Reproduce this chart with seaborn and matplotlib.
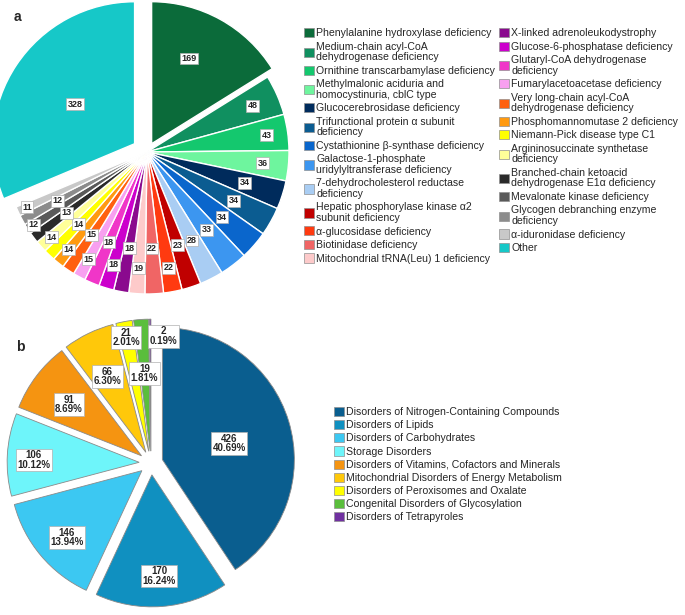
import numpy as np
import matplotlib
matplotlib.use("Agg")
import matplotlib.pyplot as plt
from matplotlib.patches import Patch
import seaborn as sns

# Panel a: individual disorders
disorders = [
    "Phenylalanine hydroxylase deficiency",
    "Medium-chain acyl-CoA\ndehydrogenase deficiency",
    "Ornithine transcarbamylase deficiency",
    "Methylmalonic aciduria and\nhomocystinuria, cblC type",
    "Glucocerebrosidase deficiency",
    "Trifunctional protein α subunit\ndeficiency",
    "Cystathionine β-synthase deficiency",
    "Galactose-1-phosphate\nuridylyltransferase deficiency",
    "7-dehydrocholesterol reductase\ndeficiency",
    "Hepatic phosphorylase kinase α2\nsubunit deficiency",
    "α-glucosidase deficiency",
    "Biotinidase deficiency",
    "Mitochondrial tRNA(Leu) 1 deficiency",
    "X-linked adrenoleukodystrophy",
    "Glucose-6-phosphatase deficiency",
    "Glutaryl-CoA dehydrogenase\ndeficiency",
    "Fumarylacetoacetase deficiency",
    "Very long-chain acyl-CoA\ndehydrogenase deficiency",
    "Phosphomannomutase 2 deficiency",
    "Niemann-Pick disease type C1",
    "Argininosuccinate synthetase\ndeficiency",
    "Branched-chain ketoacid\ndehydrogenase E1α deficiency",
    "Mevalonate kinase deficiency",
    "Glycogen debranching enzyme\ndeficiency",
    "α-iduronidase deficiency",
    "Other",
]
disorder_counts = [169, 48, 43, 36, 34, 34, 34, 33, 28, 23, 22, 22, 19,
                   18, 18, 18, 15, 15, 14, 14, 14, 13, 12, 12, 11, 328]
disorder_colors = [
    "#0b6b3a", "#109060", "#14c86e", "#6ef59e", "#002b5c", "#0b5c91",
    "#0a66cc", "#3c96f0", "#a9cdf3", "#c00000", "#ff3a10", "#f06565",
    "#fdcaca", "#8a0a8e", "#cc00cc", "#f036c8", "#f8a0f0", "#ff6010",
    "#ff9a10", "#ffff00", "#ffff99", "#2a2a2a", "#595959", "#8c8c8c",
    "#c8c8c8", "#16c8c8",
]

# Panel b: disorder groups
groups = [
    "Disorders of Nitrogen-Containing Compounds",
    "Disorders of Lipids",
    "Disorders of Carbohydrates",
    "Storage Disorders",
    "Disorders of Vitamins, Cofactors and Minerals",
    "Mitochondrial Disorders of Energy Metabolism",
    "Disorders of Peroxisomes and Oxalate",
    "Congenital Disorders of Glycosylation",
    "Disorders of Tetrapyroles",
]
group_counts = [426, 170, 146, 106, 91, 66, 21, 19, 2]
group_colors = ["#0a5e8f", "#1090c0", "#3cc8f2", "#6ef5fa", "#f59411",
                "#ffc80a", "#ffff00", "#5abe3c", "#7030a0"]

sns.set_theme(style="white")
plt.rcParams["font.family"] = ["Liberation Sans", "DejaVu Sans"]

W, H = 685, 615
fig = plt.figure(figsize=(W / 100, H / 100), dpi=100)


def px_axes(cx, cy, half):
    return fig.add_axes([(cx - half) / W, (H - cy - half) / H, 2 * half / W, 2 * half / H])


def mid_angles(values):
    v = np.asarray(values, dtype=float)
    cum = np.cumsum(v) / v.sum() * 360
    mid = cum - v / v.sum() * 180
    # clockwise from 12 o'clock -> standard radians
    return np.deg2rad(90 - mid)


box = dict(boxstyle="square,pad=0.15", fc="white", ec="#b0b0b0", lw=0.5)

# ---- pie a ----
ax_a = px_axes(147, 152, 142 * 1.3)
explode_a = [0.0] * len(disorder_counts)
explode_a[0] = 0.067
explode_a[-1] = 0.105
ax_a.pie(disorder_counts, colors=disorder_colors, startangle=90, counterclock=False,
         explode=explode_a, radius=1,
         wedgeprops=dict(edgecolor="white", linewidth=1.0))
ax_a.set_xlim(-1.3, 1.3)
ax_a.set_ylim(-1.3, 1.3)
ax_a.axis("off")

lab_r_a = [0.72, 0.81, 0.85, 0.82, 0.72, 0.70, 0.70, 0.69, 0.70, 0.69, 0.83, 0.68,
           0.82, 0.69, 0.83, 0.69, 0.86, 0.70, 0.88, 0.70, 0.90, 0.71, 0.95, 0.72,
           0.93, 0.61]
lab_da_a = np.zeros(len(disorder_counts))
lab_da_a[0] = 5  # 169 label sits a little left of the wedge middle
for ang, n, rr, da in zip(mid_angles(disorder_counts), disorder_counts, lab_r_a, lab_da_a):
    ang = ang + np.deg2rad(da)
    ax_a.text(rr * np.cos(ang), rr * np.sin(ang), str(n), ha="center", va="center",
              fontsize=6.5, fontweight="bold", bbox=box)

handles_a = [Patch(fc=c, ec="#909090", lw=0.5) for c in disorder_colors]
leg_a = fig.legend(handles_a, disorders, ncol=2, loc="upper left",
                   bbox_to_anchor=(304 / W, 1 - 28 / H), frameon=False, fontsize=7.6,
                   handlelength=0.95, handleheight=0.95, handletextpad=0.2,
                   labelspacing=0.32, columnspacing=0.4, borderpad=0, borderaxespad=0)
for t in leg_a.get_texts():
    t.set_linespacing(1.08)

# ---- pie b ----
ax_b = px_axes(151, 463, 132 * 1.3)
total_b = sum(group_counts)
explode_b = [0.09] * len(group_counts)
ax_b.pie(group_counts, colors=group_colors, startangle=90, counterclock=False,
         explode=explode_b, radius=1,
         wedgeprops=dict(edgecolor="#8a8a8a", linewidth=0.6))
ax_b.set_xlim(-1.3, 1.3)
ax_b.set_ylim(-1.3, 1.3)
ax_b.axis("off")

lab_r_b = [0.62, 0.83, 0.83, 0.89, 0.78, 0.76, 1.0, 0.71, 0.99]
lab_dx_b = [0, 0, 0, 0, 0, 0, 0, 0, 0.10]
for ang, n, rr, dx in zip(mid_angles(group_counts), group_counts, lab_r_b, lab_dx_b):
    ax_b.text(rr * np.cos(ang) + dx, rr * np.sin(ang) - 0.03, f"{n}\n{n / total_b * 100:.2f}%",
              ha="center", va="center", fontsize=7, fontweight="bold",
              linespacing=0.95, bbox=box)

handles_b = [Patch(fc=c, ec="#909090", lw=0.5) for c in group_colors]
fig.legend(handles_b, groups, ncol=1, loc="upper left",
           bbox_to_anchor=(334 / W, 1 - 407 / H), frameon=False, fontsize=7.6,
           handlelength=0.95, handleheight=0.95, handletextpad=0.2,
           labelspacing=0.28, borderpad=0, borderaxespad=0)

fig.text(14 / W, 1 - 17 / H, "a", fontsize=10, fontweight="bold", ha="left", va="center")
fig.text(16 / W, 1 - 347 / H, "b", fontsize=10, fontweight="bold", ha="left", va="center")

fig.savefig("out.png", dpi=100, facecolor="white")
